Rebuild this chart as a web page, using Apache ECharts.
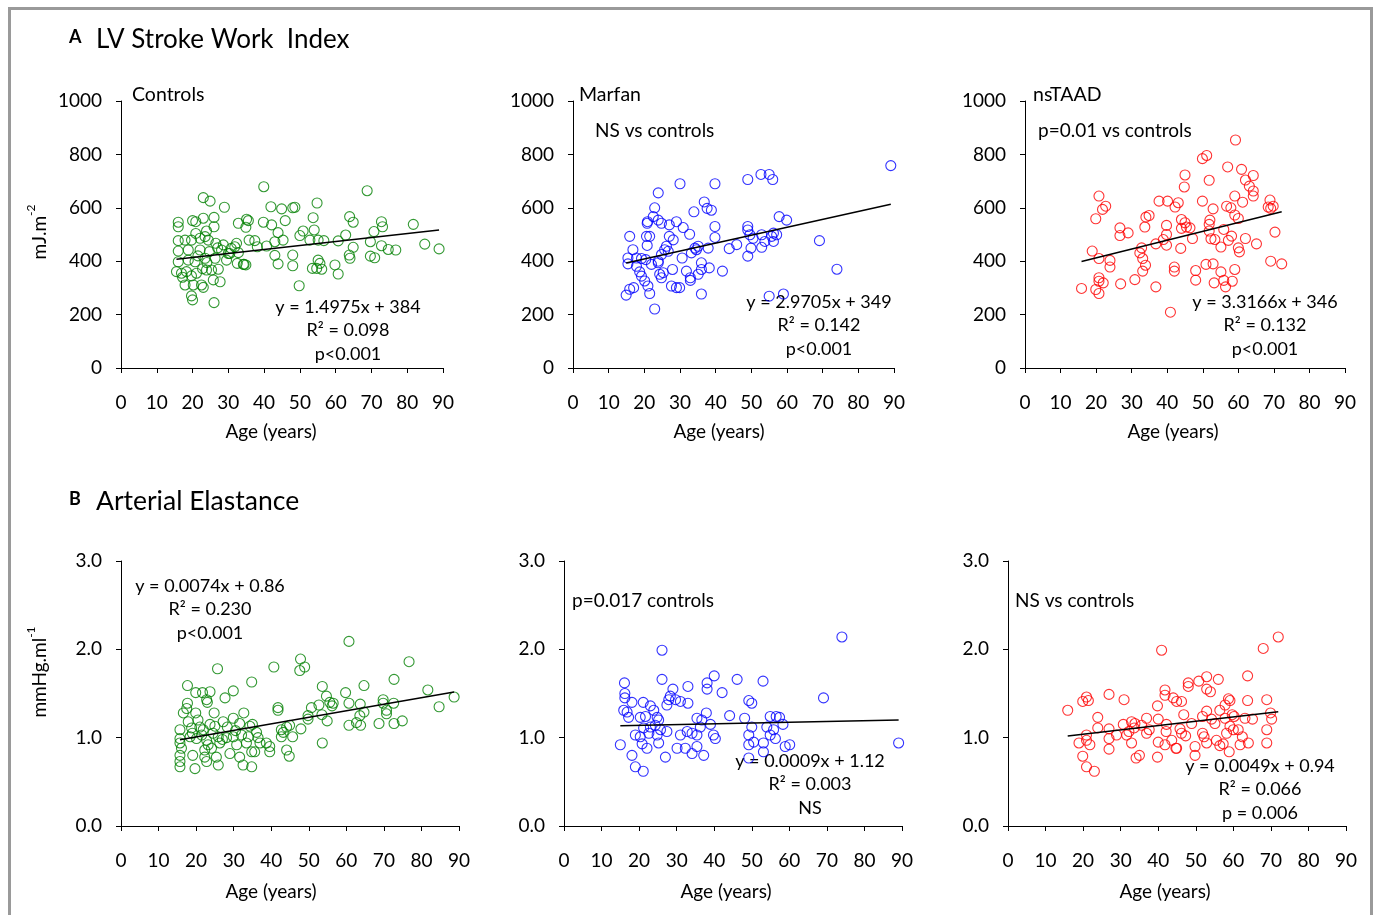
<!DOCTYPE html>
<html><head><meta charset="utf-8">
<script src="https://cdn.jsdelivr.net/npm/echarts@6/dist/echarts.min.js"></script>
<style>html,body{margin:0;padding:0;background:#fff}#c{width:1374px;height:915px}</style>
</head><body><div id="c"></div>
<script>
// ---------- DATA (age in years, value) ----------
const controlsSWI = [[39.9,679],[68.8,664],[23.0,638],[24.9,625],[28.9,602],[41.9,604],[44.9,596],[48.0,600],[48.6,602],[54.8,618],[63.9,567],[64.9,546],[81.7,538],[72.8,548],[73.1,529],[16.0,546],[16.0,529],[20.0,552],[20.9,548],[23.0,561],[26.0,564],[26.0,529],[32.8,542],[35.1,557],[35.6,552],[34.9,527],[39.8,546],[42.1,536],[45.9,552],[53.7,563],[54.0,517],[50.9,513],[50.0,496],[43.9,507],[62.8,498],[70.7,511],[23.9,513],[20.9,504],[16.0,477],[17.9,479],[19.7,479],[22.1,486],[23.5,492],[24.4,479],[26.5,467],[28.6,461],[32.3,467],[31.8,454],[35.8,479],[37.4,477],[38.1,454],[40.7,457],[43.0,473],[45.3,479],[52.8,479],[55.1,479],[56.7,477],[60.7,476],[69.7,473],[72.8,458],[74.7,444],[76.8,442],[84.9,464],[88.9,446],[64.9,452],[63.8,423],[64.0,411],[69.7,419],[70.9,413],[16.0,438],[18.8,442],[22.1,442],[24.7,436],[28.1,442],[30.0,429],[32.8,432],[16.0,398],[18.8,404],[20.7,398],[23.5,411],[26.3,411],[29.5,404],[32.5,392],[34.2,388],[34.9,386],[43.0,422],[43.9,390],[48.0,423],[48.0,383],[55.1,404],[55.6,392],[54.7,373],[56.1,370],[53.5,373],[59.8,386],[60.7,352],[15.5,361],[16.9,355],[18.3,361],[19.7,345],[21.1,355],[23.9,367],[25.3,367],[27.2,370],[27.7,323],[25.8,330],[17.9,311],[20.2,311],[22.5,311],[23.0,302],[19.7,270],[20.0,255],[26.0,245],[49.8,308],[30.4,429],[34.4,388],[21.5,420],[24.0,395],[27.0,450],[30.8,448],[22.8,372],[17.2,340]];

const marfanSWI = [[89.1,758],[30.0,690],[39.8,690],[49.0,706],[52.7,725],[55.0,725],[56.0,706],[23.9,656],[22.9,600],[33.9,585],[36.8,622],[37.6,598],[38.8,591],[57.8,567],[59.9,554],[20.9,548],[22.5,567],[23.9,554],[24.8,542],[27.0,536],[29.0,548],[30.9,526],[32.7,501],[39.8,530],[39.8,489],[49.0,530],[49.0,517],[50.5,486],[52.9,499],[55.7,493],[56.2,505],[57.1,499],[56.2,474],[53.8,474],[52.9,452],[49.9,449],[49.6,499],[45.9,462],[43.8,447],[37.9,449],[35.1,456],[34.6,443],[33.2,431],[30.6,412],[28.1,480],[27.0,493],[26.2,456],[25.7,443],[26.7,437],[24.8,425],[23.9,400],[20.8,542],[20.6,493],[21.5,493],[20.8,459],[15.9,493],[16.8,443],[15.4,412],[15.4,390],[17.8,412],[19.2,410],[20.4,406],[22.0,388],[23.9,394],[17.8,381],[18.7,360],[19.2,344],[20.1,326],[21.0,307],[21.5,279],[22.9,221],[14.9,273],[15.9,295],[17.0,301],[24.3,351],[24.8,338],[25.3,357],[27.9,369],[27.6,307],[29.0,301],[29.9,301],[31.8,363],[32.9,338],[32.9,328],[35.1,351],[36.0,369],[36.0,394],[38.2,375],[41.9,363],[36.0,277],[49.0,419],[69.1,477],[74.0,370],[55.0,269],[59.0,277],[34.2,449]];

const nstaadSWI = [[59.2,854],[49.9,784],[51.1,796],[57.0,753],[60.9,744],[64.2,721],[62.0,704],[45.0,723],[44.8,678],[51.8,703],[63.1,681],[64.2,663],[64.2,644],[59.0,644],[20.8,644],[22.7,606],[21.8,594],[19.9,559],[37.7,625],[40.1,625],[43.1,619],[42.2,603],[49.9,625],[52.9,596],[56.7,606],[57.9,600],[59.0,573],[60.0,560],[61.2,621],[68.9,629],[68.4,603],[69.8,606],[69.1,598],[70.3,509],[34.0,565],[34.9,571],[26.7,525],[26.7,496],[29.0,506],[33.7,528],[39.8,534],[39.8,500],[38.9,481],[39.8,460],[44.0,556],[45.0,544],[45.4,528],[44.0,523],[46.4,525],[47.1,485],[52.0,554],[51.8,538],[51.8,513],[52.3,484],[53.4,481],[55.9,519],[57.2,478],[58.1,494],[62.0,485],[65.1,465],[60.0,450],[60.3,435],[55.1,453],[36.8,465],[32.8,450],[32.3,431],[33.1,410],[33.9,385],[33.1,363],[43.8,448],[18.9,438],[20.8,410],[23.9,403],[23.9,378],[20.8,338],[20.8,325],[22.0,319],[19.9,294],[20.8,279],[15.9,298],[26.9,315],[30.9,331],[36.8,304],[42.0,378],[42.0,363],[48.0,365],[48.0,329],[50.9,388],[52.9,390],[53.2,319],[55.1,360],[55.9,328],[56.4,304],[58.3,325],[59.0,369],[69.1,400],[72.2,390],[40.9,209]];

const controlsEA = [[60.7,2.09],[25.7,1.78],[40.7,1.80],[47.8,1.89],[47.6,1.76],[48.9,1.80],[76.7,1.86],[34.8,1.63],[72.7,1.66],[17.7,1.59],[19.9,1.51],[21.7,1.51],[23.7,1.52],[22.8,1.43],[23.0,1.40],[27.7,1.45],[29.9,1.53],[53.6,1.58],[54.7,1.47],[59.8,1.51],[64.7,1.59],[81.7,1.54],[88.7,1.46],[84.7,1.35],[17.7,1.39],[17.5,1.33],[16.6,1.28],[19.9,1.28],[24.8,1.28],[32.7,1.28],[41.8,1.34],[41.8,1.31],[50.7,1.34],[52.7,1.37],[55.6,1.40],[56.5,1.39],[56.2,1.36],[60.7,1.39],[63.7,1.38],[69.8,1.43],[69.8,1.39],[72.6,1.39],[70.7,1.31],[70.7,1.27],[64.7,1.29],[63.6,1.25],[49.8,1.25],[49.8,1.21],[53.5,1.26],[54.9,1.19],[60.7,1.14],[62.7,1.17],[63.8,1.14],[68.7,1.16],[72.7,1.16],[74.9,1.19],[15.7,1.09],[17.9,1.18],[18.8,1.11],[21.0,1.12],[21.9,1.09],[23.7,1.15],[25.0,1.13],[27.2,1.18],[28.3,1.12],[29.9,1.22],[31.6,1.16],[34.3,1.13],[35.0,1.15],[36.1,1.06],[42.7,1.09],[43.2,1.06],[44.1,1.12],[44.9,1.14],[47.9,1.10],[45.7,1.01],[42.7,1.01],[15.7,0.99],[15.7,0.94],[16.1,0.88],[18.4,1.01],[20.1,0.99],[21.5,1.03],[22.8,0.97],[23.2,0.92],[22.3,0.86],[24.1,0.88],[25.9,1.01],[26.3,0.94],[28.1,1.00],[29.9,1.01],[30.8,0.92],[32.1,1.03],[33.9,1.01],[33.4,0.94],[34.8,0.84],[37.0,0.94],[38.7,0.94],[39.6,0.90],[39.6,0.84],[44.1,0.86],[44.8,0.79],[53.6,0.94],[15.7,0.80],[15.7,0.73],[15.7,0.67],[19.1,0.80],[19.7,0.65],[22.3,0.78],[22.8,0.73],[25.4,0.78],[25.9,0.69],[29.0,0.82],[31.6,0.78],[32.5,0.69],[34.8,0.67],[35.6,0.84],[19.0,1.05],[20.5,1.20],[24.5,1.05],[27.0,0.98],[30.5,1.08],[36.5,1.00]];

const marfanEA = [[74.0,2.14],[26.1,1.99],[16.1,1.62],[26.1,1.66],[38.1,1.62],[38.1,1.55],[40.0,1.70],[46.1,1.66],[53.0,1.64],[33.0,1.58],[29.0,1.55],[42.1,1.51],[16.2,1.50],[16.2,1.45],[18.1,1.40],[21.1,1.40],[23.0,1.36],[28.3,1.47],[29.7,1.43],[31.0,1.41],[33.0,1.39],[27.9,1.43],[27.4,1.37],[23.9,1.31],[15.9,1.31],[16.8,1.29],[17.2,1.23],[20.3,1.23],[21.7,1.24],[24.8,1.23],[25.2,1.20],[37.9,1.28],[35.4,1.22],[36.7,1.20],[39.0,1.15],[44.1,1.25],[48.1,1.22],[49.2,1.42],[50.0,1.39],[69.1,1.45],[54.9,1.24],[56.5,1.24],[57.4,1.23],[58.3,1.15],[54.0,1.12],[55.8,1.09],[50.0,1.12],[19.0,1.03],[20.3,1.01],[21.2,1.11],[23.0,1.12],[24.3,1.14],[25.7,1.09],[27.4,1.07],[31.0,1.03],[32.8,1.07],[34.1,1.05],[35.4,1.03],[36.3,1.12],[39.8,1.03],[40.3,0.99],[49.2,1.03],[54.9,1.03],[56.3,0.99],[15.0,0.92],[20.8,0.93],[22.1,0.88],[25.2,0.94],[30.1,0.88],[32.3,0.88],[34.1,0.82],[35.4,0.90],[37.2,0.80],[27.0,0.78],[18.1,0.80],[19.0,0.67],[21.1,0.62],[49.2,0.92],[50.5,0.95],[53.1,0.94],[53.1,0.84],[58.9,0.90],[60.1,0.92],[49.2,0.77],[89.1,0.94],[22.6,1.05],[24.8,1.03]];

const nstaadEA = [[71.96,2.14],[67.96,2.01],[40.9,1.99],[63.8,1.70],[52.9,1.69],[56.0,1.66],[50.8,1.64],[48.0,1.62],[48.0,1.58],[52.9,1.55],[53.9,1.52],[41.8,1.54],[41.8,1.48],[44.0,1.45],[44.9,1.41],[46.2,1.41],[26.9,1.49],[20.9,1.46],[19.9,1.41],[21.4,1.42],[30.9,1.43],[58.7,1.44],[59.1,1.42],[57.8,1.37],[63.8,1.42],[68.9,1.43],[15.9,1.31],[23.9,1.23],[39.8,1.36],[36.9,1.22],[40.0,1.21],[46.8,1.26],[52.9,1.30],[56.4,1.31],[59.7,1.26],[63.1,1.22],[65.1,1.21],[51.8,1.24],[55.1,1.16],[54.2,1.21],[57.8,1.22],[60.2,1.24],[69.9,1.28],[70.2,1.21],[23.9,1.11],[26.9,1.10],[30.7,1.15],[32.9,1.18],[33.8,1.16],[33.6,1.11],[32.2,1.07],[35.6,1.14],[37.6,1.09],[42.2,1.15],[42.1,1.07],[45.8,1.10],[46.2,1.05],[48.9,1.16],[51.8,1.05],[52.2,1.01],[55.5,0.97],[58.2,1.05],[60.0,1.09],[61.3,1.09],[59.1,1.13],[62.4,1.01],[68.9,1.09],[20.9,1.03],[20.9,0.97],[18.9,0.94],[21.8,0.92],[26.9,0.99],[28.9,1.03],[31.6,1.03],[32.9,0.94],[36.9,1.05],[40.0,0.95],[43.6,0.97],[41.8,0.92],[44.9,0.88],[47.3,1.02],[49.8,0.90],[52.9,0.94],[56.4,0.91],[57.3,0.93],[58.9,0.84],[61.8,0.92],[64.0,0.94],[68.9,0.94],[19.9,0.79],[20.9,0.67],[23.0,0.62],[26.9,0.87],[34.1,0.77],[35.0,0.80],[39.8,0.78],[49.8,0.80],[44.7,0.88]];

// regression lines shown in the figure: [slope, intercept]
const trendSWI = [[1.4975, 384], [2.9705, 349], [3.3166, 346]];
const trendEA = [[0.0074, 0.86], [0.0009, 1.12], [0.0049, 0.94]];
const groupNames = ['Controls', 'Marfan', 'nsTAAD'];
const groupColors = ['#008000', '#0000ff', '#ff0000'];

// ---------- CHART ----------
const FONT = 'Lato';
const chart = echarts.init(document.getElementById('c'), null, {renderer: 'canvas'});

const panels = [
  {data: controlsSWI, c: 0, tr: trendSWI[0], grid: {left: 121, top: 101, width: 322, height: 267}, max: 1000, step: 200, fmt: v => String(v), gap: 54, pad: 22},
  {data: marfanSWI,   c: 1, tr: trendSWI[1], grid: {left: 573, top: 101, width: 321, height: 267}, max: 1000, step: 200, fmt: v => String(v), gap: 54, pad: 29},
  {data: nstaadSWI,   c: 2, tr: trendSWI[2], grid: {left: 1025, top: 101, width: 320, height: 267}, max: 1000, step: 200, fmt: v => String(v), gap: 54, pad: 24},
  {data: controlsEA,  c: 0, tr: trendEA[0], grid: {left: 121, top: 561, width: 338, height: 265}, max: 3, step: 1, fmt: v => v.toFixed(1), gap: 56, pad: 38},
  {data: marfanEA,    c: 1, tr: trendEA[1], grid: {left: 564, top: 561, width: 338, height: 265}, max: 3, step: 1, fmt: v => v.toFixed(1), gap: 56, pad: 14},
  {data: nstaadEA,    c: 2, tr: trendEA[2], grid: {left: 1008, top: 561, width: 338, height: 265}, max: 3, step: 1, fmt: v => v.toFixed(1), gap: 56, pad: 24}
];

const axisLine = {show: true, lineStyle: {color: '#000', width: 1}};
const axisTick = {show: true, inside: false, length: 5, lineStyle: {color: '#000', width: 1}};
const labelStyle = {color: '#000', fontFamily: FONT, fontSize: 19};

const grids = [], xAxes = [], yAxes = [], series = [];
panels.forEach((p, i) => {
  grids.push(Object.assign({containLabel: false}, p.grid));
  xAxes.push({
    type: 'value', gridIndex: i, min: 0, max: 90, interval: 10,
    axisLine, axisTick, splitLine: {show: false},
    axisLabel: Object.assign({margin: 25}, labelStyle),
    name: 'Age (years)', nameLocation: 'middle', nameGap: p.gap,
    nameTextStyle: {color: '#000', fontFamily: FONT, fontSize: 19, padding: [0, p.pad, 0, 0]}
  });
  yAxes.push({
    type: 'value', gridIndex: i, min: 0, max: p.max, interval: p.step,
    axisLine, axisTick, splitLine: {show: false},
    axisLabel: Object.assign({margin: 19, formatter: p.fmt}, labelStyle)
  });
  series.push({
    type: 'scatter', xAxisIndex: i, yAxisIndex: i, data: p.data,
    symbol: 'circle', symbolSize: 10, silent: true,
    itemStyle: {color: 'rgba(0,0,0,0)', borderColor: groupColors[p.c], borderWidth: 1.1},
    z: 2
  });
  const xs = p.data.map(d => d[0]);
  const x0 = Math.min(...xs), x1 = Math.max(...xs);
  series.push({
    type: 'line', xAxisIndex: i, yAxisIndex: i, silent: true,
    data: [[x0, p.tr[1] + p.tr[0] * x0], [x1, p.tr[1] + p.tr[0] * x1]],
    symbol: 'none', lineStyle: {color: '#000', width: 1.5}, z: 3
  });
});

function txt(x, y, s, opt) {
  return {
    type: 'text', x, y, silent: true,
    style: Object.assign({text: s, fill: '#000', font: '19px ' + FONT, textAlign: 'left', textVerticalAlign: 'middle'}, opt || {})
  };
}
function block(cx, y, lines) {
  return lines.map((s, k) => txt(cx, y + k * 23.5, s, {textAlign: 'center', font: '18px ' + FONT}));
}

const graphics = [
  {type: 'rect', silent: true, shape: {x: 9.5, y: 8.5, width: 1362, height: 930},
   style: {fill: 'none', stroke: '#9a9a9a', lineWidth: 3}},
  txt(69, 37, 'A', {font: 'bold 18px ' + FONT}),
  txt(96, 40, 'LV Stroke Work  Index', {font: '26px ' + FONT}),
  txt(69, 499, 'B', {font: 'bold 18px ' + FONT}),
  txt(96, 501, 'Arterial Elastance', {font: '26.5px ' + FONT}),
  txt(132, 95, groupNames[0], {font: '19.5px ' + FONT}),
  txt(579, 95, groupNames[1], {font: '19.5px ' + FONT}),
  txt(1033, 95, groupNames[2], {font: '19.5px ' + FONT}),
  txt(595, 131, 'NS vs controls'),
  txt(1038, 131, 'p=0.01 vs controls'),
  txt(572, 601, 'p=0.017 controls'),
  txt(1015, 601, 'NS vs controls'),
  ...block(348, 307, ['y = 1.4975x + 384', 'R² = 0.098', 'p<0.001']),
  ...block(819, 302, ['y = 2.9705x + 349', 'R² = 0.142', 'p<0.001']),
  ...block(1265, 302, ['y = 3.3166x + 346', 'R² = 0.132', 'p<0.001']),
  ...block(210, 586, ['y = 0.0074x + 0.86', 'R² = 0.230', 'p<0.001']),
  ...block(810, 761, ['y = 0.0009x + 1.12', 'R² = 0.003', 'NS']),
  ...block(1260, 766, ['y = 0.0049x + 0.94', 'R² = 0.066', 'p = 0.006']),
  {type: 'text', x: 37, y: 232, rotation: Math.PI / 2, silent: true,
   style: {text: '{a|mJ.m}{s|-2}', fill: '#000', textAlign: 'center', textVerticalAlign: 'middle',
     rich: {a: {fontFamily: FONT, fontSize: 19, lineHeight: 24, verticalAlign: 'bottom'},
            s: {fontFamily: FONT, fontSize: 12, lineHeight: 24, verticalAlign: 'top'}}}},
  {type: 'text', x: 37, y: 672, rotation: Math.PI / 2, silent: true,
   style: {text: '{a|mmHg.ml}{s|-1}', fill: '#000', textAlign: 'center', textVerticalAlign: 'middle',
     rich: {a: {fontFamily: FONT, fontSize: 19, lineHeight: 24, verticalAlign: 'bottom'},
            s: {fontFamily: FONT, fontSize: 12, lineHeight: 24, verticalAlign: 'top'}}}}
];

chart.setOption({
  backgroundColor: '#fff',
  animation: false,
  grid: grids, xAxis: xAxes, yAxis: yAxes, series,
  graphic: graphics
});
</script>
</body></html>
